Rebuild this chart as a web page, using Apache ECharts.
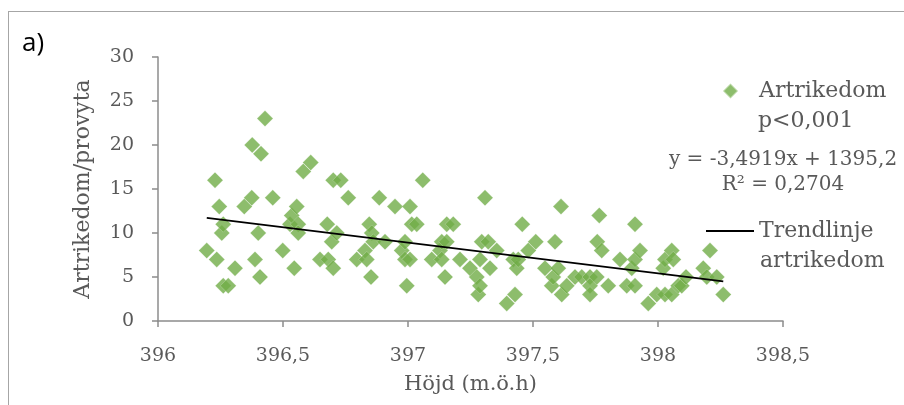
<!DOCTYPE html>
<html>
<head>
<meta charset="utf-8">
<script src="https://cdn.jsdelivr.net/npm/echarts@6/dist/echarts.min.js"></script>
<style>
  html, body { margin: 0; padding: 0; background: #ffffff; }
  #wrap { position: relative; width: 904px; height: 405px; overflow: hidden; }
  #chart { width: 904px; height: 405px; }
  /* panel frame: left and top edges */
  #frame {
    position: absolute; left: 8px; top: 11px; width: 1000px; height: 500px;
    border-left: 1.5px solid #a6a6a6; border-top: 1.5px solid #a6a6a6;
    pointer-events: none; box-sizing: border-box;
  }
</style>
</head>
<body>
<div id="wrap">
  <div id="chart"></div>
  <div id="frame"></div>
</div>
<script>
// Höjd (m.ö.h) per provyta
const hojd = [
  396.195, 396.228, 396.235, 396.245, 396.255, 396.261, 396.261, 396.281, 396.308, 396.345,
  396.375, 396.377, 396.388, 396.401, 396.408, 396.412, 396.428, 396.459, 396.499, 396.528,
  396.535, 396.545, 396.555, 396.561, 396.561, 396.581, 396.611, 396.648, 396.677, 396.681,
  396.695, 396.701, 396.701, 396.715, 396.731, 396.761, 396.795, 396.828, 396.835, 396.845,
  396.852, 396.855, 396.861, 396.885, 396.908, 396.948, 396.975, 396.988, 396.988, 396.995,
  397.008, 397.008, 397.015, 397.035, 397.059, 397.095, 397.128, 397.135, 397.135, 397.148,
  397.155, 397.155, 397.181, 397.208, 397.248, 397.275, 397.281, 397.288, 397.288, 397.295,
  397.308, 397.321, 397.328, 397.355, 397.395, 397.421, 397.428, 397.435, 397.441, 397.457,
  397.481, 397.511, 397.548, 397.575, 397.581, 397.588, 397.601, 397.612, 397.615, 397.635,
  397.668, 397.695, 397.728, 397.728, 397.728, 397.755, 397.757, 397.765, 397.775, 397.801,
  397.848, 397.875, 397.895, 397.908, 397.908, 397.908, 397.928, 397.961, 397.995, 398.021,
  398.028, 398.028, 398.055, 398.055, 398.061, 398.081, 398.095, 398.112, 398.181, 398.195,
  398.208, 398.235, 398.261
];
// Artrikedom per provyta
const artrikedom = [
  8, 16, 7, 13, 10, 11, 4, 4, 6, 13,
  14, 20, 7, 10, 5, 19, 23, 14, 8, 11,
  12, 6, 13, 11, 10, 17, 18, 7, 11, 7,
  9, 16, 6, 10, 16, 14, 7, 8, 7, 11,
  5, 10, 9, 14, 9, 13, 8, 9, 7, 4,
  13, 7, 11, 11, 16, 7, 8, 9, 7, 5,
  9, 11, 11, 7, 6, 5, 3, 7, 4, 9,
  14, 9, 6, 8, 2, 7, 3, 6, 7, 11,
  8, 9, 6, 4, 5, 9, 6, 13, 3, 4,
  5, 5, 5, 4, 3, 5, 9, 12, 8, 4,
  7, 4, 6, 11, 7, 4, 8, 2, 3, 6,
  3, 7, 3, 8, 7, 4, 4, 5, 6, 5,
  8, 5, 3
];

// Linear trend: y = slope * x + intercept
const trendSlope = -3.4919;
const trendIntercept = 1395.2;
const trendR2 = 0.2704;

const xTickLabels = ['396', '396,5', '397', '397,5', '398', '398,5'];
const yTickLabels = ['0', '5', '10', '15', '20', '25', '30'];

const TEXT = '#595959';
const FONT = 'DejaVu Serif';
const GREEN = '#70AD47';
const AXIS = '#8c8c8c';

const points = hojd.map((h, i) => [h, artrikedom[i]]);
const xMin = Math.min(...hojd);
const xMax = Math.max(...hojd);
const trendPoints = [xMin, xMax].map(x => [x, trendSlope * x + trendIntercept]);

const fmt = (v, d) => v.toFixed(d).replace('.', ',');
const eqText = 'y = ' + fmt(trendSlope, 4) + 'x + ' + fmt(trendIntercept, 1);
const r2Text = 'R² = ' + fmt(trendR2, 4);

const chart = echarts.init(document.getElementById('chart'), null, { renderer: 'canvas' });

chart.setOption({
  animation: false,
  backgroundColor: '#ffffff',
  grid: { left: 158, right: 121, top: 57, bottom: 84 },
  xAxis: {
    type: 'value',
    min: 396, max: 398.5, interval: 0.5,
    name: 'Höjd (m.ö.h)',
    nameLocation: 'middle',
    nameGap: 53,
    nameTextStyle: { color: TEXT, fontFamily: FONT, fontSize: 21 },
    axisLine: { show: true, lineStyle: { color: AXIS, width: 1.5 } },
    axisTick: { show: true, length: 6, lineStyle: { color: AXIS, width: 1.5 } },
    axisLabel: {
      color: TEXT, fontFamily: FONT, fontSize: 19, margin: 26,
      formatter: v => xTickLabels[Math.round((v - 396) / 0.5)]
    },
    splitLine: { show: false }
  },
  yAxis: {
    type: 'value',
    min: 0, max: 30, interval: 5,
    name: 'Artrikedom/provyta',
    nameLocation: 'middle',
    nameGap: 64,
    nameRotate: 90,
    nameTextStyle: { color: TEXT, fontFamily: FONT, fontSize: 22 },
    axisLine: { show: true, lineStyle: { color: AXIS, width: 1.5 } },
    axisTick: { show: true, length: 6, lineStyle: { color: AXIS, width: 1.5 } },
    axisLabel: {
      color: TEXT, fontFamily: FONT, fontSize: 19, margin: 24,
      formatter: v => yTickLabels[Math.round(v / 5)]
    },
    splitLine: { show: false }
  },
  legend: [
    {
      data: [{ name: 'Artrikedom', icon: 'diamond' }],
      left: 722, top: 80, padding: 0,
      itemWidth: 15, itemHeight: 15,
      textStyle: { color: TEXT, fontFamily: FONT, fontSize: 22, padding: [0, 0, 0, 16] },
      selectedMode: false
    },
    {
      data: [{ name: 'Trendlinje artrikedom', icon: 'rect' }],
      left: 706, top: 220, padding: 0,
      itemWidth: 48, itemHeight: 2,
      formatter: () => 'Trendlinje',
      textStyle: { color: TEXT, fontFamily: FONT, fontSize: 22 },
      selectedMode: false
    }
  ],
  graphic: [
    {
      type: 'text', left: 22, top: 31,
      style: { text: 'a)', fill: '#000000', font: '26px "Open Sans"' }
    },
    {
      type: 'text', left: 758, top: 110,
      style: { text: 'p<0,001', fill: TEXT, font: '22px "DejaVu Serif"' }
    },
    {
      type: 'text', x: 783, y: 160,
      style: { text: eqText, fill: TEXT, font: '20px "DejaVu Serif"', align: 'center', verticalAlign: 'middle' }
    },
    {
      type: 'text', x: 783, y: 185,
      style: { text: r2Text, fill: TEXT, font: '20px "DejaVu Serif"', align: 'center', verticalAlign: 'middle' }
    },
    {
      type: 'text', left: 760, top: 250,
      style: { text: 'artrikedom', fill: TEXT, font: '22px "DejaVu Serif"' }
    }
  ],
  series: [
    {
      name: 'Artrikedom',
      type: 'scatter',
      symbol: 'diamond',
      symbolSize: 16,
      itemStyle: { color: GREEN, borderColor: 'rgba(255,255,255,0.45)', borderWidth: 0.6 },
      data: points,
      z: 2
    },
    {
      name: 'Trendlinje artrikedom',
      type: 'line',
      showSymbol: false,
      symbol: 'none',
      lineStyle: { color: '#000000', width: 1.8 },
      itemStyle: { color: '#000000' },
      data: trendPoints,
      z: 3
    }
  ]
});
</script>
</body>
</html>
